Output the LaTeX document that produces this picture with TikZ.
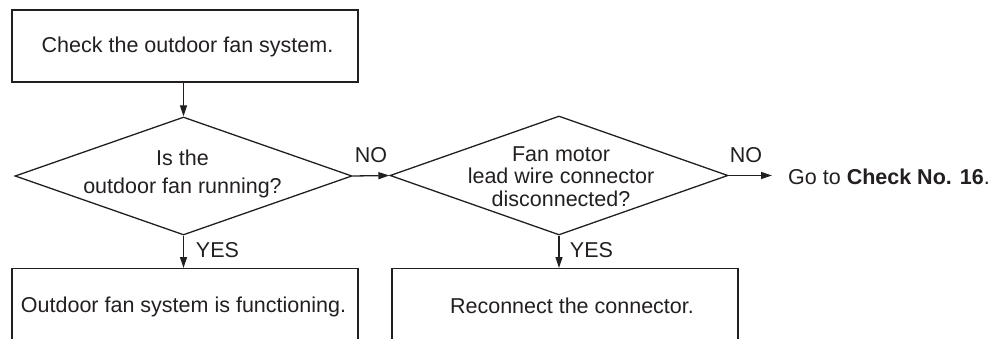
\documentclass[tikz,border=0pt]{standalone}
\usepackage{fontspec}
\setmainfont{Liberation Sans}
\usetikzlibrary{shapes.geometric,arrows.meta,calc}
\definecolor{ink}{HTML}{231F20}
\begin{document}
\begin{tikzpicture}[x=1pt,y=-1pt,
  line/.style={draw=ink, line width=1.3pt},
  box/.style={line, minimum width=346pt, minimum height=72pt, inner sep=0pt},
  openbox/.style={line, minimum width=346pt, minimum height=130pt, anchor=north, inner sep=0pt},
  dia/.style={diamond, line, inner sep=0pt},
  txt/.style={text=ink, font=\fontsize{21.5}{28}\selectfont, align=center, inner sep=0pt},
  conn/.style={line, -{Triangle[length=11pt,width=7pt]}}
]
\path[use as bounding box, clip] (0,0) rectangle (993,339);

% boxes
\node[box] (b1) at (185,46) {};
\node[txt, anchor=base] (t1) at (187.5,53) {Check the outdoor fan system.};
\node[openbox] (b2) at (185,268) {};
\node[txt, anchor=base] (t2) at (183.5,312) {Outdoor fan system is functioning.};
\node[openbox] (b3) at (565,268) {};
\node[txt, anchor=base] (t3) at (572,313) {Reconnect the connector.};

% diamonds
\node[dia, minimum width=337pt, minimum height=118pt] (d1) at (183.5,176) {};
\node[txt] (dt1) at (182.5,174) {Is the\\outdoor fan running?};
\node[dia, minimum width=338pt, minimum height=119pt] (d2) at (559,175.5) {};
\node[txt, font=\fontsize{21.5}{22.5}\selectfont] (dt2) at (561,176.5) {Fan motor\\lead wire connector\\disconnected?};

% go to
\node[txt, anchor=base west] (go) at (788,185) {Go to \textbf{Check No. 16}.};

% connectors
\draw[conn] (b1.south -| d1.north) -- (d1.north);
\draw[conn] (d1.south) -- (d1.south |- b2.north);
\draw[conn] (d1.east) -- (d2.west);
\draw[conn] (d2.south) -- (d2.south |- b3.north);
\draw[conn, shorten >=16pt] (d2.east) -- (d2.east -| go.west);

% labels
\node[txt, anchor=base] (y1) at (217.5,257) {YES};
\node[txt, anchor=base] (y2) at (591.5,257) {YES};
\node[txt, anchor=base] (n1) at (371,163) {NO};
\node[txt, anchor=base] (n2) at (746,163) {NO};
\end{tikzpicture}
\end{document}
